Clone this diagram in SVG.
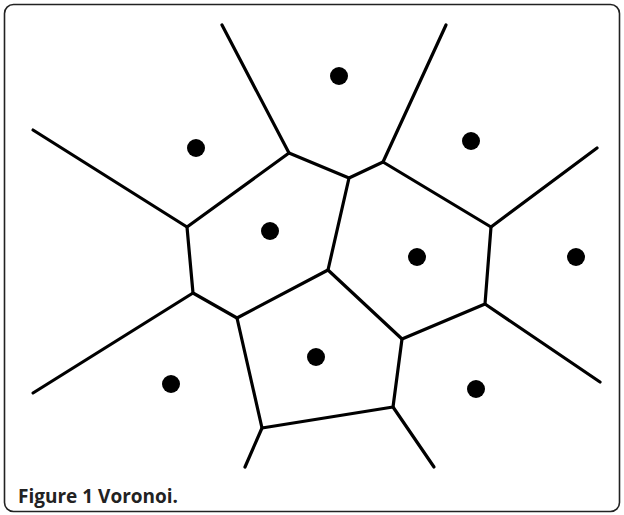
<svg xmlns="http://www.w3.org/2000/svg" width="624" height="515" viewBox="0 0 624 515">
<style>
.e{stroke:#000;stroke-width:3.2;fill:none;stroke-linecap:round;stroke-linejoin:round}
.s{fill:#000}
.cap{font-family:"Open Sans","Noto Sans",sans-serif;font-weight:bold;font-size:19px;fill:#222}
</style>
<rect x="4.5" y="4.5" width="615" height="507" rx="9" fill="#fff" stroke="#222" stroke-width="1.6"/>
<g id="connectors">
<path class="e" d="M289,153 L349,178 L383,162 L491,227 L485,304 L402,339 L328,270 L349,178"/>
<path class="e" d="M289,153 L187,227 L193,293 L237,318 L328,270"/>
<path class="e" d="M237,318 L262,428 L393,407 L402,339"/>
<path class="e" d="M289,153 L222,25"/>
<path class="e" d="M383,162 L446,25"/>
<path class="e" d="M187,227 L33,130"/>
<path class="e" d="M491,227 L597,148"/>
<path class="e" d="M193,293 L33,393"/>
<path class="e" d="M485,304 L600,382"/>
<path class="e" d="M262,428 L245,467"/>
<path class="e" d="M393,407 L434,467"/>
</g>
<g id="sites">
<circle id="s1" class="s" cx="339" cy="76" r="9"/>
<circle id="s2" class="s" cx="196" cy="148" r="9"/>
<circle id="s3" class="s" cx="471" cy="141" r="9"/>
<circle id="s4" class="s" cx="270" cy="231" r="9"/>
<circle id="s5" class="s" cx="417" cy="257" r="9"/>
<circle id="s6" class="s" cx="576" cy="257" r="9"/>
<circle id="s7" class="s" cx="316" cy="357" r="9"/>
<circle id="s8" class="s" cx="171" cy="384" r="9"/>
<circle id="s9" class="s" cx="476" cy="389" r="9"/>
</g>
<text class="cap" x="18" y="503">Figure 1 Voronoi.</text>
</svg>
